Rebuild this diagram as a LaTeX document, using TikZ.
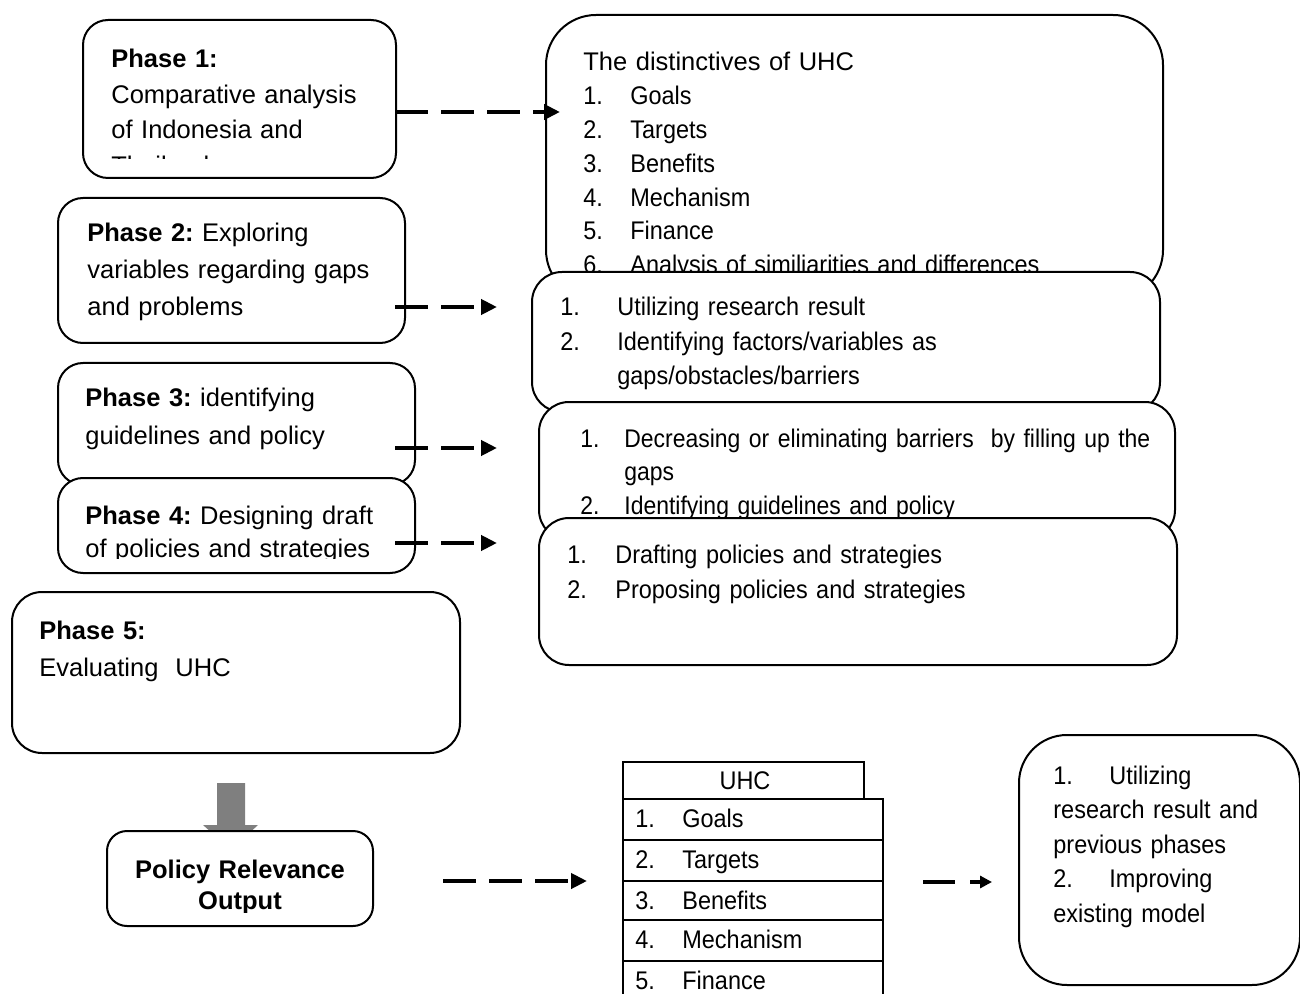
\documentclass[tikz,border=0pt]{standalone}
\usepackage{fontspec}
\setmainfont{Liberation Sans}
\newfontfamily\nar[FakeStretch=0.92]{Liberation Sans}
\newfontfamily\narr[FakeStretch=0.9]{Liberation Sans}
\usetikzlibrary{arrows.meta,fit}
\AtBeginDocument{\frenchspacing}
\begin{document}
\begin{tikzpicture}[x=0.5pt,y=-0.5pt,
  box/.style={draw=black, line width=1pt, fill=white, rounded corners=12.5pt, inner sep=0pt},
  bigbox/.style={box, rounded corners=25pt},
  midbox/.style={box, rounded corners=15pt},
  cell/.style={draw=black, line width=1pt, fill=white, inner sep=0pt},
  txt/.style={anchor=base west, inner sep=0pt, align=left, text width=300pt},
  fs/.style={font=\fontsize{12.75}{#1}\selectfont},
  bfs/.style={font=\fontsize{12.75}{#1}\selectfont\bfseries},
  nfs/.style={font=\fontsize{12.75}{#1}\selectfont\nar},
  nnfs/.style={font=\fontsize{12.75}{#1}\selectfont\narr},
  dasharrow/.style={line width=2pt, dash pattern=on 16.5pt off 6.5pt, -{Triangle[length=8pt,width=7.5pt]}},
  smallarrow/.style={line width=2pt, dash pattern=on 16pt off 7.5pt, -{Triangle[length=6pt,width=6pt]}},
]
\useasboundingbox (0,0) rectangle (1300,994);

% ---- right column boxes
\node[bigbox, fit={(546,15) (1163,300)}] (b1) {};
\node[txt, nfs=16.9pt] (b1t) at (583,71) {{\normalfont The distinctives of UHC}\\
\makebox[23.5pt][l]{1.}Goals\\
\makebox[23.5pt][l]{2.}Targets\\
\makebox[23.5pt][l]{3.}Benefits\\
\makebox[23.5pt][l]{4.}Mechanism\\
\makebox[23.5pt][l]{5.}Finance\\
\makebox[23.5pt][l]{6.}Analysis of similiarities and differences};

\node[midbox, fit={(532,272) (1160,412)}] (r2) {};
\node[txt, nfs=17.25pt] (r2t) at (560,316) {\makebox[28.5pt][l]{1.}Utilizing research result\\
\makebox[28.5pt][l]{2.}Identifying factors/variables as\\
\hspace*{28.5pt}gaps/obstacles/barriers};

\node[midbox, fit={(539,402) (1175,540)}] (r3) {};
\node[txt, nnfs=16.75pt] (r3t) at (580,447) {\makebox[22pt][l]{1.}Decreasing or eliminating barriers\ \ by filling up the\\
\hspace*{22pt}gaps\\
\makebox[22pt][l]{2.}Identifying guidelines and policy};

\node[midbox, fit={(539,518) (1177,665)}] (r4) {};
\node[txt, nfs=17.5pt] (r4t) at (567,563) {\makebox[24pt][l]{1.}Drafting policies and strategies\\
\makebox[24pt][l]{2.}Proposing policies and strategies};

% ---- left column boxes
\node[box, fit={(83,20) (396,178)}] (p1) {};
\begin{scope}
\clip (83,20) rectangle (396,159);
\node[txt, fs=17.75pt] (p1t) at (111,68) {\textbf{Phase 1:}\\Comparative analysis\\of Indonesia and\\Thailand};
\end{scope}

\node[box, fit={(58,198) (405,343)}] (p2) {};
\node[txt, fs=18.5pt] (p2t) at (87,242) {\textbf{Phase 2:} Exploring\\variables regarding gaps\\and problems};

\node[box, fit={(58,363) (415,485)}] (p3) {};
\node[txt, fs=19pt] (p3t) at (85,407) {\textbf{Phase 3:} identifying\\guidelines and policy};

\node[box, fit={(58,478) (415,573)}] (p4) {};
\begin{scope}
\clip (58,478) rectangle (415,558);
\node[txt, fs=16.5pt] (p4t) at (85,524) {\textbf{Phase 4:} Designing draft\\of policies and strategies};
\end{scope}

\node[box, rounded corners=15pt, fit={(12,592) (460,753)}] (p5) {};
\node[txt, fs=18.5pt] (p5t) at (39,639) {\textbf{Phase 5:}\\Evaluating\ \ UHC};

% ---- dashed connectors
\coordinate (a1s) at (395,112); \coordinate (a1e) at (560,112);
\coordinate (a2s) at (395,307); \coordinate (a2e) at (497,307);
\coordinate (a3s) at (395,448); \coordinate (a3e) at (497,448);
\coordinate (a4s) at (395,543); \coordinate (a4e) at (497,543);
\draw[dasharrow] (a1s) -- (a1e);
\draw[dasharrow] (a2s) -- (a2e);
\draw[dasharrow] (a3s) -- (a3e);
\draw[dasharrow] (a4s) -- (a4e);

% ---- gray block arrow
\fill[fill={rgb,255:red,127;green,127;blue,127}] (217,783) -- (245,783) -- (245,825) -- (258,825) -- (231,850) -- (203,825) -- (217,825) -- cycle;

% ---- policy relevance output
\node[box, rounded corners=10pt, fit={(107,831) (373,926)}] (pol) {};
\begin{scope}
\clip (107,831) rectangle (373,912);
\node[anchor=base, inner sep=0pt, align=center, text width=150pt, bfs=15.5pt] (polt) at (240,878) {Policy Relevance\\Output};
\end{scope}

\coordinate (a5s) at (443,881); \coordinate (a5e) at (587,881);
\draw[dasharrow] (a5s) -- (a5e);

% ---- UHC table
\node[cell, fit={(623,762) (864,799)}] (th) {};
\node[anchor=base, inner sep=0pt, nfs=15pt] (tht) at (745,789) {UHC};
\node[cell, fit={(623,799) (883,840)}] (c1) {};
\node[cell, fit={(623,840) (883,881)}] (c2) {};
\node[cell, fit={(623,881) (883,920)}] (c3) {};
\node[cell, fit={(623,920) (883,961)}] (c4) {};
\node[cell, fit={(623,961) (883,1010)}] (c5) {};
\node[txt, nfs=15pt] (c1t) at (635,827) {\makebox[23.5pt][l]{1.}Goals};
\node[txt, nfs=15pt] (c2t) at (635,868) {\makebox[23.5pt][l]{2.}Targets};
\node[txt, nfs=15pt] (c3t) at (635,909) {\makebox[23.5pt][l]{3.}Benefits};
\node[txt, nfs=15pt] (c4t) at (635,948) {\makebox[23.5pt][l]{4.}Mechanism};
\node[txt, nfs=15pt] (c5t) at (635,989) {\makebox[23.5pt][l]{5.}Finance};

\coordinate (a6s) at (923,882); \coordinate (a6e) at (992,882);
\draw[smallarrow] (a6s) -- (a6e);

% ---- final box
\node[box, rounded corners=24pt, fit={(1019,735) (1300,985)}] (fin) {};
\node[txt, nfs=17.25pt] (fint) at (1053,784) {\makebox[28pt][l]{1.}Utilizing\\research result and\\previous phases\\\makebox[28pt][l]{2.}Improving\\existing model};
\end{tikzpicture}
\end{document}
